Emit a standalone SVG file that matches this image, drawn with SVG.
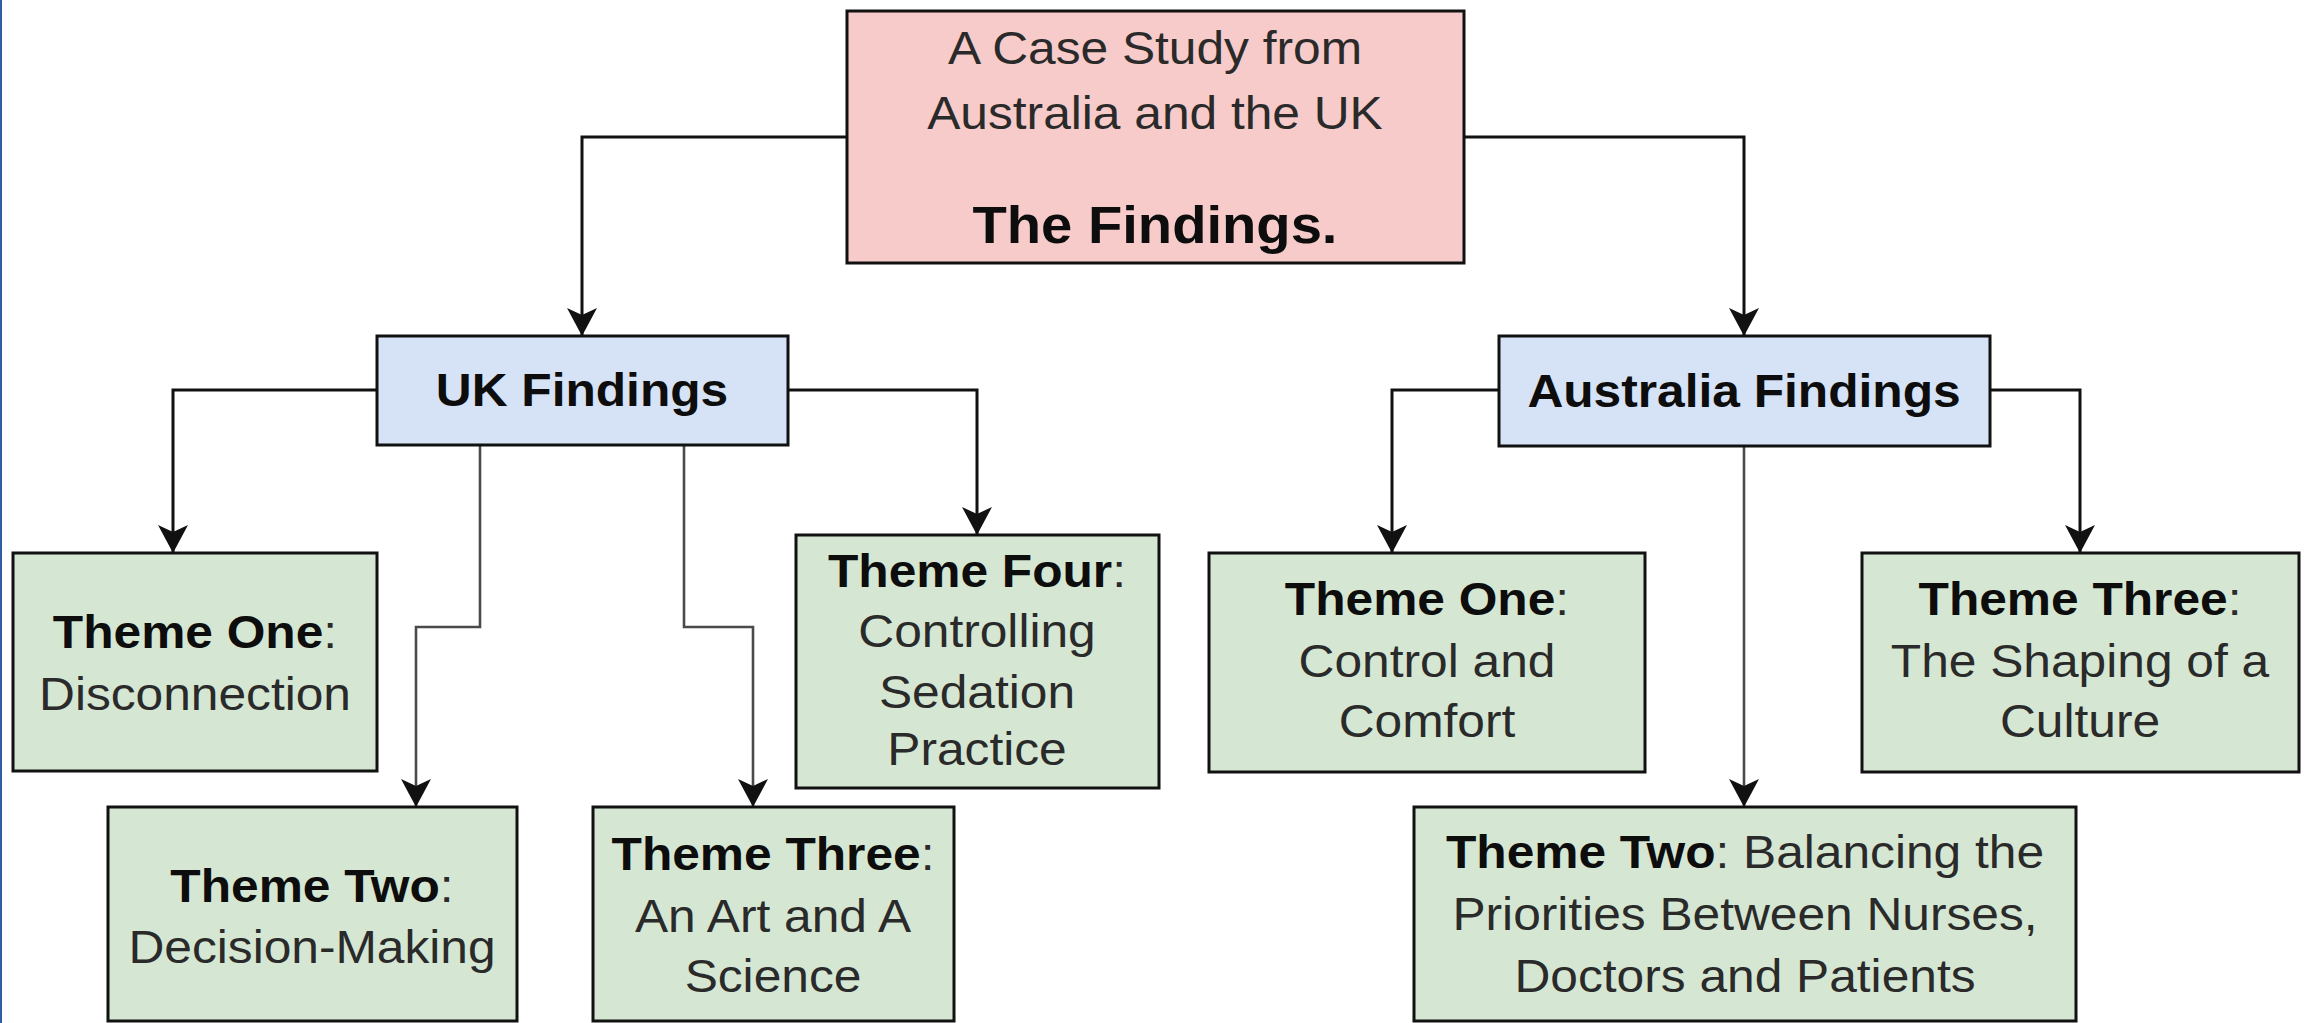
<svg xmlns="http://www.w3.org/2000/svg" width="2307" height="1023" viewBox="0 0 2307 1023">
<style>
.box{stroke:#111;stroke-width:3}
.red{fill:#f7cbc9}
.blue{fill:#d6e2f5}
.green{fill:#d5e7d3}
.t{font-family:"Liberation Sans",Arial,sans-serif;font-size:46px;fill:#2a2a2a;text-anchor:middle}
.b{font-weight:bold;fill:#0d0d0d}
.ttl{font-size:52px}
.c{fill:none;stroke:#111;stroke-width:3}
.cg{fill:none;stroke:#4a4a4a;stroke-width:2.6}
</style>
<defs>
<marker id="arr" viewBox="0 0 28 30" refX="27" refY="15" markerWidth="28" markerHeight="30" markerUnits="userSpaceOnUse" orient="auto">
<path d="M0,0 L28,15 L0,30 L7,15 Z" fill="#111"/>
</marker>
</defs>
<rect x="0" y="0" width="2307" height="1023" fill="#ffffff"/>
<rect x="0" y="0" width="2" height="1023" fill="#2f5ea5"/>

<g id="connectors">
<path class="c" d="M847,137 H582 V335" marker-end="url(#arr)"/>
<path class="c" d="M1464,137 H1744 V335" marker-end="url(#arr)"/>
<path class="c" d="M377,390 H173 V552" marker-end="url(#arr)"/>
<path class="cg" d="M480,445 V627 H416 V806" marker-end="url(#arr)"/>
<path class="cg" d="M684,445 V627 H753 V806" marker-end="url(#arr)"/>
<path class="c" d="M788,390 H977 V534" marker-end="url(#arr)"/>
<path class="c" d="M1499,390 H1392 V552" marker-end="url(#arr)"/>
<path class="cg" d="M1744,446 V806" marker-end="url(#arr)"/>
<path class="c" d="M1990,390 H2080 V552" marker-end="url(#arr)"/>
</g>

<g id="node-top">
<rect class="box red" x="847" y="11" width="617" height="252"/>
<text class="t" transform="translate(1155,64) scale(1.08,1)">A Case Study from</text>
<text class="t" transform="translate(1155,129) scale(1.08,1)">Australia and the UK</text>
<text class="t b ttl" transform="translate(1155,243) scale(1.08,1)">The Findings.</text>
</g>

<g id="node-uk">
<rect class="box blue" x="377" y="336" width="411" height="109"/>
<text class="t b" transform="translate(582,406) scale(1.08,1)">UK Findings</text>
</g>

<g id="node-au">
<rect class="box blue" x="1499" y="336" width="491" height="110"/>
<text class="t b" transform="translate(1744,407) scale(1.08,1)">Australia Findings</text>
</g>

<g id="node-uk-t1">
<rect class="box green" x="13" y="553" width="364" height="218"/>
<text class="t" transform="translate(195,648) scale(1.08,1)"><tspan class="b">Theme One</tspan>:<tspan x="0" dy="62">Disconnection</tspan></text>
</g>

<g id="node-uk-t2">
<rect class="box green" x="108" y="807" width="409" height="214"/>
<text class="t" transform="translate(312,902) scale(1.08,1)"><tspan class="b">Theme Two</tspan>:<tspan x="0" dy="61">Decision-Making</tspan></text>
</g>

<g id="node-uk-t3">
<rect class="box green" x="593" y="807" width="361" height="214"/>
<text class="t" transform="translate(773,870) scale(1.08,1)"><tspan class="b">Theme Three</tspan>:<tspan x="0" dy="62">An Art and A</tspan><tspan x="0" dy="60">Science</tspan></text>
</g>

<g id="node-uk-t4">
<rect class="box green" x="796" y="535" width="363" height="253"/>
<text class="t" transform="translate(977,587) scale(1.08,1)"><tspan class="b">Theme Four</tspan>:<tspan x="0" dy="60">Controlling</tspan><tspan x="0" dy="61">Sedation</tspan><tspan x="0" dy="57">Practice</tspan></text>
</g>

<g id="node-au-t1">
<rect class="box green" x="1209" y="553" width="436" height="219"/>
<text class="t" transform="translate(1427,615) scale(1.08,1)"><tspan class="b">Theme One</tspan>:<tspan x="0" dy="62">Control and</tspan><tspan x="0" dy="60">Comfort</tspan></text>
</g>

<g id="node-au-t2">
<rect class="box green" x="1414" y="807" width="662" height="214"/>
<text class="t" transform="translate(1745,868) scale(1.08,1)"><tspan class="b">Theme Two</tspan>: Balancing the<tspan x="0" dy="62">Priorities Between Nurses,</tspan><tspan x="0" dy="62">Doctors and Patients</tspan></text>
</g>

<g id="node-au-t3">
<rect class="box green" x="1862" y="553" width="437" height="219"/>
<text class="t" transform="translate(2080,615) scale(1.08,1)"><tspan class="b">Theme Three</tspan>:<tspan x="0" dy="62">The Shaping of a</tspan><tspan x="0" dy="60">Culture</tspan></text>
</g>
</svg>
